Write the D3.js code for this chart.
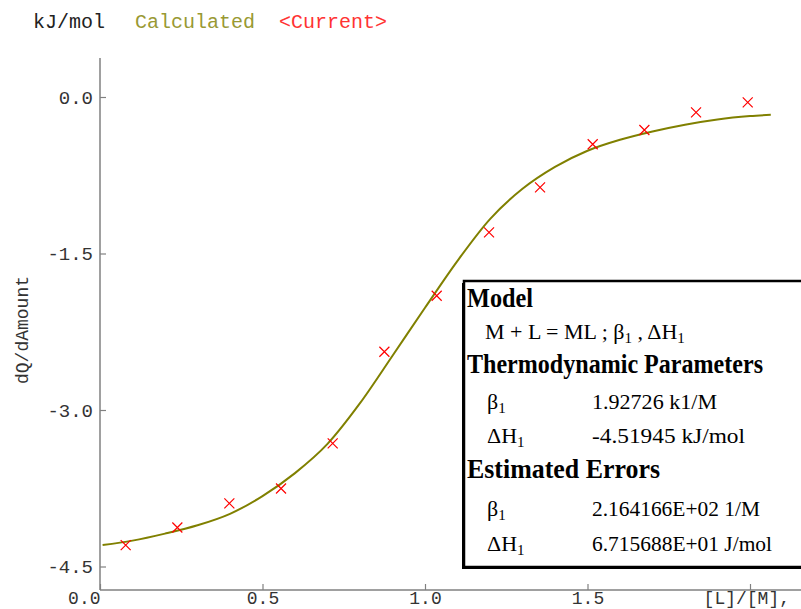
<!DOCTYPE html>
<html><head><meta charset="utf-8">
<script src="https://cdn.jsdelivr.net/npm/d3@7"></script>
<style>body{margin:0;background:#fff}svg{display:block}</style>
</head><body>
<script>
// ---- data ----
const pointX = [0.079, 0.238, 0.398, 0.557, 0.716, 0.875, 1.036, 1.197, 1.354, 1.516, 1.675, 1.834, 1.993];
const pointY = [-4.295, -4.126, -3.895, -3.752, -3.320, -2.442, -1.905, -1.297, -0.866, -0.453, -0.316, -0.147, -0.051];
const curveX = [0.008, 0.10, 0.20, 0.30, 0.40, 0.50, 0.60, 0.70, 0.80, 0.90, 1.00, 1.10, 1.20, 1.30, 1.40, 1.50, 1.60, 1.70, 1.80, 1.90, 2.00, 2.064];
const curveY = [-4.295, -4.252, -4.185, -4.105, -3.995, -3.825, -3.605, -3.325, -2.935, -2.48, -2.02, -1.57, -1.17, -0.88, -0.67, -0.515, -0.41, -0.33, -0.265, -0.215, -0.183, -0.170];
const yTicks = [0, -1.5, -3.0, -4.5];
const xTicks = [0, 0.5, 1.0, 1.5, 2.0];
const xTickLabels = ["0.0", "0.5", "1.0", "1.5", ""];
const legendItems = ["kJ/mol", "Calculated", "<Current>"];
const yLabel = "dQ/dAmount";
const xLabel = "[L]/[M],";

const W = 801, H = 609;
const svg = d3.select("body").append("svg").attr("width", W).attr("height", H);
const mono = "'Liberation Mono','Courier New',monospace";
const serif = "'Liberation Serif','Times New Roman',serif";

const x = d3.scaleLinear().domain([0, 2]).range([100, 750]);
const y = d3.scaleLinear().domain([0, -4.5]).range([97, 566.5]);
const axisColor = "#808080";

// axes lines
svg.append("line").attr("x1", 100).attr("x2", 100).attr("y1", 58).attr("y2", 590)
  .attr("stroke", axisColor).attr("stroke-width", 1.5);
svg.append("line").attr("x1", 100).attr("x2", W).attr("y1", 590).attr("y2", 590)
  .attr("stroke", axisColor).attr("stroke-width", 1.5);

// y axis
const yAxis = d3.axisRight(y).tickValues(yTicks).tickSize(6).tickFormat(d3.format(".1f"));
const gy = svg.append("g").attr("transform", "translate(100,0)").call(yAxis);
gy.select(".domain").remove();
gy.selectAll(".tick line").attr("stroke", axisColor).attr("stroke-width", 1.2);
gy.selectAll(".tick text").attr("x", -7).attr("text-anchor", "end")
  .attr("font-family", mono).attr("font-size", 19).attr("fill", "#333")
  .text(d => d3.format(".1f")(d).replace("−", "-"));

// x axis
const xAxis = d3.axisTop(x).tickValues(xTicks).tickSize(6).tickFormat((d, i) => xTickLabels[i]);
const gx = svg.append("g").attr("transform", "translate(0,590)").call(xAxis);
gx.select(".domain").remove();
gx.selectAll(".tick line").attr("stroke", axisColor).attr("stroke-width", 1.2);
gx.selectAll(".tick text").attr("y", 14).attr("dy", 0)
  .attr("font-family", mono).attr("font-size", 18).attr("fill", "#333")
  .attr("text-anchor", (d, i) => i === 0 ? "end" : "middle");

svg.append("text").attr("x", 790).attr("y", 604).attr("text-anchor", "end")
  .attr("font-family", mono).attr("font-size", 18).attr("fill", "#333").text(xLabel);

svg.append("text").attr("transform", "translate(28,330) rotate(-90)").attr("text-anchor", "middle")
  .attr("font-family", mono).attr("font-size", 18).attr("fill", "#333").text(yLabel);

// legend / title
const legColors = ["#222", "#999933", "#ff3333"];
const legX = [33, 135, 279];
svg.selectAll("text.leg").data(legendItems).enter().append("text").attr("class", "leg")
  .attr("x", (d, i) => legX[i]).attr("y", 28)
  .attr("font-family", mono).attr("font-size", 20).attr("fill", (d, i) => legColors[i]).text(d => d);

// curve
const curveData = curveX.map((v, i) => [v, curveY[i]]);
svg.append("path").datum(curveData)
  .attr("d", d3.line().x(d => x(d[0])).y(d => y(d[1])).curve(d3.curveMonotoneX))
  .attr("fill", "none").attr("stroke", "#808000").attr("stroke-width", 2);

// points
const s = 5;
const pts = svg.selectAll("g.pt").data(pointX.map((v, i) => [v, pointY[i]])).enter().append("g")
  .attr("transform", d => `translate(${x(d[0])},${y(d[1])})`);
pts.append("path").attr("d", `M${-s},${-s}L${s},${s}M${-s},${s}L${s},${-s}`)
  .attr("stroke", "#ff0000").attr("stroke-width", 1.2).attr("fill", "none");

// info box (with slight shadow)
svg.append("rect").attr("x", 462).attr("y", 283).attr("width", 345).attr("height", 286)
  .attr("fill", "#000");
svg.append("rect").attr("x", 464).attr("y", 281).attr("width", 345).attr("height", 286)
  .attr("fill", "#fff").attr("stroke", "#000").attr("stroke-width", 2.5);

const box = svg.append("g").attr("font-family", serif).attr("fill", "#000");
function bold(txt, xx, yy, len) {
  box.append("text").attr("x", xx).attr("y", yy).attr("font-weight", "bold").attr("font-size", 27)
    .attr("textLength", len).attr("lengthAdjust", "spacingAndGlyphs").text(txt);
}
function sym(xx, yy, main, sub) {
  const tx = box.append("text").attr("x", xx).attr("y", yy).attr("font-size", 22);
  tx.append("tspan").text(main);
  tx.append("tspan").attr("font-size", 15).attr("dy", 4).text(sub);
}
function val(txt, xx, yy, len) {
  box.append("text").attr("x", xx).attr("y", yy).attr("font-size", 22)
    .attr("textLength", len).attr("lengthAdjust", "spacingAndGlyphs").text(txt);
}
bold("Model", 467, 307, 66);
{
  const t = box.append("text").attr("x", 485).attr("y", 339).attr("font-size", 22);
  t.append("tspan").text("M + L = ML ; β");
  t.append("tspan").attr("font-size", 15).attr("dy", 4).text("1");
  t.append("tspan").attr("dy", -4).text(" , ΔH");
  t.append("tspan").attr("font-size", 15).attr("dy", 4).text("1");
}
bold("Thermodynamic Parameters", 467, 373, 296);
sym(487, 409, "β", "1");
val("1.92726 k1/M", 592, 409, 125);
sym(487, 443, "ΔH", "1");
val("-4.51945 kJ/mol", 592, 443, 153);
bold("Estimated Errors", 467, 478, 193);
sym(487, 516, "β", "1");
val("2.164166E+02 1/M", 592, 516, 168);
sym(487, 551, "ΔH", "1");
val("6.715688E+01 J/mol", 592, 551, 180);
</script>
</body></html>
